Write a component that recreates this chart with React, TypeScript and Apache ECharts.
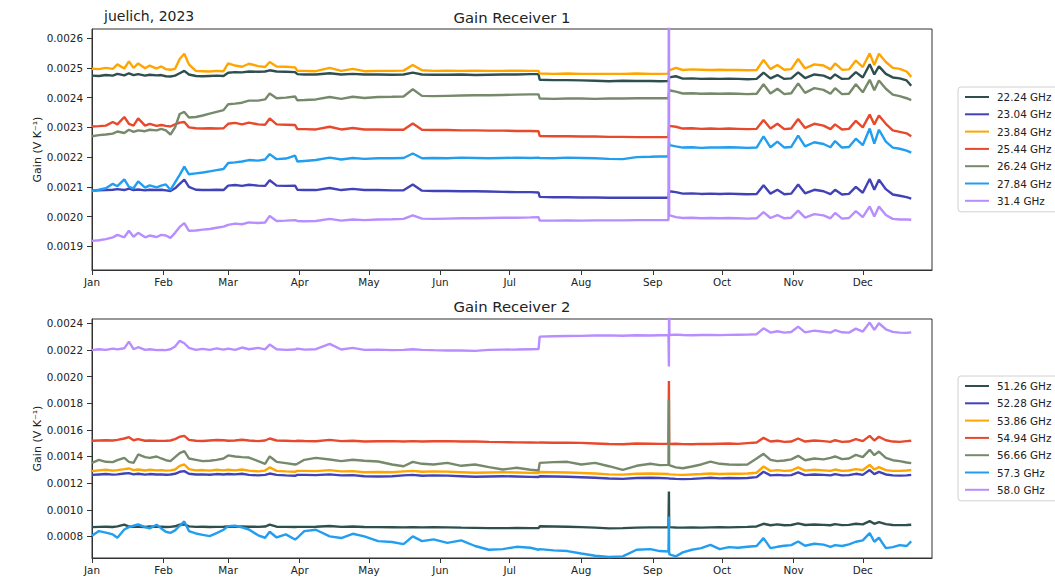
import React, { useEffect, useRef } from 'react';
import * as echarts from 'echarts';

// ---------- axis / label data ----------
const MONTHS = ['Jan', 'Feb', 'Mar', 'Apr', 'May', 'Jun', 'Jul', 'Aug', 'Sep', 'Oct', 'Nov', 'Dec'];
// day of year 2023 (0 = 1 Jan) at which each month starts
const MONTH_STARTS = [0, 31, 59, 90, 120, 151, 181, 212, 243, 273, 304, 334];
const Y1_TICKS = [0.0019, 0.002, 0.0021, 0.0022, 0.0023, 0.0024, 0.0025, 0.0026];
const Y2_TICKS = [0.0008, 0.001, 0.0012, 0.0014, 0.0016, 0.0018, 0.002, 0.0022, 0.0024];

// day of year 2023 (0 = 1 Jan) of each sample
const DAYS = [
  0, 3, 6, 9, 11, 14, 16, 18, 20, 23, 25, 28, 30, 32, 34, 36, 38, 40, 42, 45, 48, 51, 54, 57, 59, 62, 65, 68, 72, 75, 77, 80, 84, 88, 89,
  92, 97, 103, 108, 113, 118, 124, 130, 135, 139, 143, 148, 154, 160, 166, 172, 178, 184, 190, 193.5, 194, 200, 206, 212, 218, 224, 230, 236, 242, 246, 249.8,
  250, 250.1, 250.2, 253, 256, 260, 264, 268, 272, 276, 280, 284, 288, 291, 294, 297, 300, 303, 306, 309, 313, 317, 320, 322, 325, 328, 331, 334, 337, 339, 341, 344, 347, 350, 353, 355,
];

// ---------- Receiver 1 (gain in 1e-6 V/K) ----------
const R1_NAMES = ['22.24 GHz', '23.04 GHz', '23.84 GHz', '25.44 GHz', '26.24 GHz', '27.84 GHz', '31.4 GHz'];
const R1_2224 = [
  2474, 2473, 2476, 2474, 2480, 2475, 2482, 2476, 2479, 2474, 2477, 2475, 2476, 2472, 2471, 2474, 2482, 2490, 2478, 2473, 2472, 2473, 2474, 2473, 2484, 2486, 2485, 2488, 2487, 2488, 2492, 2488, 2487, 2486, 2479,
  2478, 2478, 2482, 2478, 2480, 2478, 2478, 2477, 2478, 2484, 2478, 2477, 2477, 2478, 2476, 2477, 2478, 2478, 2479, 2479, 2460, 2459, 2459, 2458, 2457, 2455, 2457, 2456, 2456, 2455, 2456,
  2456, 2468, 2468, 2472, 2464, 2465, 2463, 2464, 2463, 2464, 2463, 2462, 2463, 2484, 2465, 2476, 2463, 2465, 2485, 2466, 2478, 2474, 2464, 2478, 2463, 2464, 2486, 2468, 2512, 2478, 2505, 2480, 2468, 2465, 2458, 2440,
];
const R1_2304 = [
  2087, 2088, 2089, 2090, 2092, 2089, 2094, 2089, 2091, 2088, 2090, 2089, 2090, 2088, 2086, 2095, 2110, 2124, 2100, 2090, 2089, 2089, 2090, 2089, 2104, 2106, 2103, 2107, 2104, 2103, 2122, 2104, 2103, 2104, 2090,
  2089, 2089, 2096, 2089, 2093, 2089, 2089, 2088, 2088, 2108, 2087, 2086, 2086, 2085, 2085, 2084, 2083, 2082, 2082, 2081, 2066, 2065, 2065, 2064, 2064, 2063, 2063, 2063, 2063, 2063, 2063,
  2063, 2085, 2085, 2082, 2077, 2078, 2076, 2077, 2076, 2077, 2076, 2075, 2076, 2105, 2077, 2090, 2075, 2077, 2108, 2078, 2090, 2085, 2075, 2090, 2074, 2076, 2100, 2080, 2126, 2090, 2124, 2092, 2074, 2070, 2065, 2060,
];
const R1_2384 = [
  2497, 2496, 2500, 2497, 2512, 2498, 2522, 2500, 2515, 2499, 2508, 2498, 2505, 2496, 2494, 2497, 2530, 2548, 2512, 2490, 2489, 2488, 2490, 2489, 2515, 2508, 2504, 2514, 2506, 2503, 2520, 2505, 2504, 2502, 2490,
  2490, 2489, 2500, 2490, 2497, 2489, 2490, 2490, 2491, 2510, 2492, 2490, 2491, 2490, 2491, 2490, 2490, 2491, 2490, 2490, 2481, 2480, 2481, 2480, 2480, 2480, 2480, 2481, 2480, 2480, 2481,
  2481, 2492, 2492, 2500, 2493, 2495, 2494, 2493, 2494, 2493, 2493, 2492, 2493, 2527, 2496, 2510, 2494, 2496, 2530, 2498, 2512, 2508, 2495, 2515, 2494, 2495, 2525, 2503, 2549, 2510, 2548, 2520, 2500, 2497, 2488, 2470,
];
const R1_2544 = [
  2303, 2304, 2306, 2318, 2310, 2335, 2312, 2306, 2330, 2306, 2312, 2305, 2308, 2305, 2303, 2310, 2316, 2318, 2300, 2297, 2296, 2297, 2296, 2297, 2312, 2315, 2310, 2316, 2310, 2309, 2330, 2310, 2309, 2308, 2294,
  2294, 2293, 2302, 2293, 2298, 2293, 2293, 2292, 2292, 2313, 2292, 2291, 2291, 2290, 2290, 2289, 2289, 2288, 2288, 2287, 2271, 2270, 2270, 2269, 2269, 2268, 2268, 2267, 2267, 2267, 2267,
  2267, 2305, 2305, 2302, 2296, 2297, 2295, 2296, 2295, 2296, 2295, 2294, 2295, 2325, 2296, 2312, 2294, 2296, 2328, 2298, 2312, 2306, 2294, 2310, 2293, 2295, 2322, 2300, 2343, 2310, 2340, 2312, 2290, 2285, 2280, 2270,
];
const R1_2624 = [
  2270, 2274, 2276, 2279, 2286, 2281, 2292, 2285, 2290, 2287, 2292, 2290, 2295, 2290, 2276, 2300, 2345, 2352, 2333, 2335, 2340, 2346, 2352, 2358, 2378, 2380, 2383, 2390, 2390, 2394, 2414, 2398, 2400, 2404, 2391,
  2392, 2394, 2402, 2396, 2403, 2399, 2402, 2403, 2404, 2428, 2406, 2405, 2406, 2407, 2408, 2408, 2409, 2410, 2411, 2411, 2397, 2396, 2397, 2397, 2396, 2397, 2397, 2398, 2398, 2398, 2398,
  2398, 2425, 2425, 2420, 2414, 2415, 2413, 2414, 2413, 2414, 2413, 2412, 2413, 2445, 2414, 2430, 2412, 2415, 2448, 2416, 2432, 2426, 2413, 2432, 2412, 2413, 2445, 2418, 2460, 2425, 2458, 2430, 2410, 2405, 2398, 2392,
];
const R1_2784 = [
  2086, 2090, 2095, 2110, 2102, 2125, 2100, 2095, 2118, 2097, 2105, 2098, 2104, 2108, 2090, 2115, 2140, 2168, 2142, 2145, 2148, 2152, 2156, 2160, 2180, 2182, 2185, 2190, 2188, 2192, 2210, 2193, 2195, 2205, 2185,
  2187, 2190, 2198, 2192, 2197, 2194, 2196, 2196, 2197, 2212, 2196, 2197, 2196, 2198, 2197, 2196, 2197, 2198, 2197, 2198, 2197, 2196, 2198, 2197, 2196, 2194, 2193, 2200, 2201, 2202, 2202,
  2202, 2250, 2240, 2236, 2232, 2233, 2231, 2232, 2232, 2233, 2232, 2231, 2232, 2270, 2233, 2252, 2232, 2234, 2272, 2236, 2250, 2244, 2233, 2254, 2232, 2234, 2262, 2240, 2296, 2245, 2292, 2252, 2232, 2228, 2222, 2215,
];
const R1_3140 = [
  1918, 1920, 1924, 1930, 1938, 1930, 1952, 1932, 1945, 1930, 1936, 1931, 1938, 1936, 1928, 1945, 1965, 1978, 1952, 1953, 1956, 1958, 1962, 1966, 1972, 1976, 1974, 1980, 1978, 1980, 2002, 1985, 1986, 1988, 1985,
  1984, 1985, 1992, 1986, 1990, 1988, 1990, 1991, 1992, 2004, 1993, 1992, 1993, 1994, 1994, 1995, 1996, 1996, 1997, 1998, 1986, 1986, 1987, 1986, 1987, 1987, 1987, 1988, 1988, 1988, 1988,
  3000, 2005, 2005, 1998, 1995, 1996, 1994, 1995, 1994, 1995, 1994, 1993, 1994, 2015, 1995, 2005, 1994, 1996, 2020, 1996, 2008, 2004, 1994, 2012, 1993, 1995, 2018, 1998, 2034, 2000, 2034, 2005, 1992, 1990, 1990, 1989,
];

// ---------- Receiver 2 (gain in 1e-6 V/K) ----------
const R2_NAMES = ['51.26 GHz', '52.28 GHz', '53.86 GHz', '54.94 GHz', '56.66 GHz', '57.3 GHz', '58.0 GHz'];
const R2_5126 = [
  870, 872, 873, 871, 875, 888, 874, 872, 873, 871, 874, 872, 873, 871, 872, 876, 888, 890, 875, 872, 873, 871, 872, 873, 874, 872, 875, 873, 872, 874, 888, 873, 872, 871, 872,
  872, 873, 878, 872, 874, 871, 870, 869, 868, 870, 868, 869, 868, 866, 864, 862, 862, 863, 862, 862, 876, 875, 873, 870, 866, 860, 862, 866, 868, 868, 868,
  1137, 870, 868, 867, 866, 868, 866, 868, 869, 868, 870, 872, 875, 895, 884, 890, 884, 886, 898, 886, 890, 887, 884, 892, 885, 887, 895, 890, 915, 895, 908, 892, 886, 885, 886, 888,
];
const R2_5228 = [
  1262, 1265, 1268, 1264, 1266, 1272, 1275, 1266, 1270, 1264, 1268, 1265, 1266, 1263, 1265, 1270, 1285, 1290, 1270, 1265, 1266, 1263, 1268, 1265, 1268, 1266, 1270, 1262, 1258, 1262, 1272, 1262, 1258, 1255, 1262,
  1262, 1260, 1266, 1258, 1260, 1252, 1250, 1252, 1258, 1262, 1255, 1258, 1256, 1252, 1248, 1250, 1252, 1250, 1247, 1246, 1252, 1250, 1248, 1244, 1240, 1235, 1232, 1238, 1240, 1238, 1236,
  1236, 1236, 1235, 1232, 1230, 1232, 1236, 1240, 1236, 1238, 1237, 1238, 1245, 1285, 1258, 1262, 1258, 1260, 1280, 1260, 1265, 1262, 1258, 1268, 1258, 1260, 1270, 1262, 1298, 1268, 1285, 1265, 1258, 1256, 1258, 1262,
];
const R2_5386 = [
  1290, 1296, 1300, 1294, 1298, 1305, 1310, 1298, 1302, 1295, 1300, 1296, 1298, 1294, 1296, 1302, 1330, 1340, 1305, 1296, 1298, 1294, 1300, 1296, 1300, 1296, 1302, 1294, 1288, 1294, 1318, 1292, 1288, 1285, 1292,
  1292, 1290, 1298, 1288, 1290, 1282, 1284, 1282, 1288, 1292, 1285, 1288, 1286, 1282, 1278, 1280, 1282, 1280, 1277, 1276, 1284, 1282, 1280, 1276, 1272, 1266, 1264, 1270, 1272, 1270, 1268,
  1268, 1268, 1266, 1264, 1262, 1265, 1268, 1272, 1268, 1270, 1270, 1272, 1278, 1325, 1292, 1298, 1292, 1295, 1318, 1294, 1300, 1296, 1292, 1302, 1292, 1295, 1305, 1298, 1337, 1302, 1320, 1298, 1292, 1292, 1295, 1298,
];
const R2_5494 = [
  1518, 1520, 1522, 1520, 1525, 1535, 1545, 1522, 1530, 1518, 1520, 1518, 1517, 1518, 1520, 1530, 1548, 1555, 1525, 1518, 1516, 1520, 1524, 1522, 1518, 1520, 1526, 1520, 1515, 1520, 1535, 1520, 1518, 1515, 1518,
  1516, 1514, 1525, 1515, 1518, 1512, 1514, 1515, 1513, 1515, 1512, 1514, 1515, 1512, 1513, 1510, 1508, 1506, 1505, 1504, 1505, 1503, 1504, 1502, 1498, 1494, 1492, 1497, 1496, 1495, 1495,
  1967, 1500, 1494, 1496, 1493, 1492, 1495, 1494, 1496, 1497, 1495, 1500, 1505, 1540, 1512, 1518, 1510, 1512, 1535, 1512, 1520, 1515, 1510, 1522, 1510, 1512, 1530, 1515, 1555, 1520, 1548, 1522, 1512, 1510, 1515, 1518,
];
const R2_5666 = [
  1352, 1375, 1360, 1358, 1372, 1390, 1360, 1352, 1415, 1395, 1390, 1400, 1385, 1372, 1365, 1395, 1425, 1440, 1385, 1375, 1365, 1368, 1375, 1385, 1408, 1400, 1395, 1392, 1365, 1345, 1400, 1360, 1350, 1340, 1345,
  1375, 1390, 1377, 1365, 1375, 1368, 1362, 1340, 1327, 1360, 1345, 1340, 1352, 1330, 1340, 1320, 1302, 1315, 1300, 1295, 1352, 1358, 1360, 1340, 1352, 1327, 1300, 1330, 1345, 1335, 1337,
  1825, 1335, 1330, 1318, 1312, 1325, 1340, 1362, 1345, 1340, 1338, 1340, 1385, 1420, 1375, 1365, 1370, 1378, 1405, 1372, 1385, 1378, 1390, 1400, 1380, 1385, 1412, 1395, 1450, 1410, 1437, 1390, 1372, 1365, 1355, 1350,
];
const R2_5730 = [
  805, 840, 828, 815, 790, 852, 870, 880, 890, 870, 860, 888, 860, 835, 827, 845, 880, 912, 840, 822, 812, 802, 825, 850, 877, 880, 868, 852, 808, 790, 835, 792, 815, 777, 790,
  840, 850, 800, 788, 820, 800, 765, 758, 742, 800, 765, 778, 752, 770, 728, 700, 705, 722, 715, 700, 705, 695, 690, 672, 655, 645, 650, 700, 705, 690, 687,
  950, 680, 665, 650, 680, 700, 712, 737, 705, 720, 715, 722, 728, 787, 712, 722, 730, 735, 762, 730, 745, 738, 722, 735, 728, 740, 760, 770, 825, 760, 790, 712, 720, 735, 728, 762,
];
const R2_5800 = [
  2198, 2205, 2200, 2210, 2204, 2212, 2262, 2205, 2220, 2200, 2205, 2198, 2200, 2198, 2205, 2225, 2268, 2250, 2215, 2200, 2208, 2200, 2212, 2202, 2210, 2200, 2218, 2205, 2215, 2204, 2240, 2205, 2200, 2203, 2210,
  2202, 2205, 2245, 2203, 2215, 2200, 2202, 2198, 2200, 2205, 2200, 2198, 2196, 2195, 2193, 2200, 2202, 2203, 2205, 2206, 2300, 2302, 2304, 2305, 2308, 2309, 2306, 2310, 2308, 2310, 2311,
  2075, 3000, 2312, 2315, 2312, 2310, 2312, 2313, 2311, 2313, 2314, 2315, 2318, 2362, 2330, 2340, 2330, 2334, 2375, 2332, 2345, 2336, 2330, 2348, 2332, 2330, 2360, 2338, 2405, 2350, 2400, 2355, 2335, 2330, 2328, 2332,
];

const COLORS = ['#2f4f4f', '#4242b8', '#ffa500', '#e8482b', '#768a6b', '#219ef0', '#b88dff'];
const R1_VALUES = [R1_2224, R1_2304, R1_2384, R1_2544, R1_2624, R1_2784, R1_3140];
const R2_VALUES = [R2_5126, R2_5228, R2_5386, R2_5494, R2_5666, R2_5730, R2_5800];

const FONT = "'DejaVu Sans', sans-serif";

function toPoints(vals: number[]) {
  return DAYS.map((d, i) => [d, vals[i] / 1e6]);
}

function xAxis(gridIndex: number) {
  return {
    type: 'value',
    gridIndex,
    min: 0,
    max: 364,
    axisLine: { show: true, onZero: false, lineStyle: { color: '#333', width: 1 } },
    axisTick: { show: true, length: 5, customValues: MONTH_STARTS, lineStyle: { color: '#333' } },
    axisLabel: {
      customValues: MONTH_STARTS,
      formatter: (v: number) => MONTHS[MONTH_STARTS.indexOf(Math.round(v))] || '',
      color: '#222',
      fontSize: 10.4,
      fontFamily: FONT,
      margin: 7,
    },
    splitLine: { show: false },
  };
}

function yAxis(gridIndex: number, min: number, max: number, ticks: number[]) {
  return {
    type: 'value',
    gridIndex,
    min,
    max,
    name: 'Gain (V K\u207B\u00B9)',
    nameLocation: 'middle',
    nameGap: 49,
    nameMoveOverlap: false,
    nameRotate: 90,
    nameTextStyle: { fontSize: 11, fontFamily: FONT, color: '#222' },
    axisLine: { show: true, onZero: false, lineStyle: { color: '#333', width: 1 } },
    axisTick: { show: true, length: 5, customValues: ticks, lineStyle: { color: '#333' } },
    axisLabel: {
      customValues: ticks,
      formatter: (v: number) => Number(v).toFixed(4),
      color: '#222',
      fontSize: 10.4,
      fontFamily: FONT,
      margin: 9,
    },
    splitLine: { show: false },
  };
}

function legend(names: string[], top: number) {
  return {
    data: names,
    orient: 'vertical',
    left: 958,
    top,
    icon: 'rect',
    itemWidth: 24,
    itemHeight: 2,
    itemGap: 5.3,
    padding: [4, 8, 5, 7],
    borderColor: '#d0d0d0',
    borderWidth: 1,
    borderRadius: 3,
    backgroundColor: '#fff',
    selectedMode: false,
    textStyle: { fontSize: 10.4, lineHeight: 12, fontFamily: FONT, color: '#222', padding: [0, 0, 0, 3] },
  };
}

export default function App() {
  const ref = useRef<HTMLDivElement>(null);
  useEffect(() => {
    const chart = echarts.init(ref.current as HTMLDivElement, null, { renderer: 'svg' });
    const series: any[] = [];
    R1_VALUES.forEach((vals, i) => {
      series.push({
        type: 'line', name: R1_NAMES[i], xAxisIndex: 0, yAxisIndex: 0,
        data: toPoints(vals), symbol: 'none', showSymbol: false,
        lineStyle: { width: 2.4, color: COLORS[i] }, itemStyle: { color: COLORS[i] },
      });
    });
    R2_VALUES.forEach((vals, i) => {
      series.push({
        type: 'line', name: R2_NAMES[i], xAxisIndex: 1, yAxisIndex: 1,
        data: toPoints(vals), symbol: 'none', showSymbol: false,
        lineStyle: { width: 2.4, color: COLORS[i] }, itemStyle: { color: COLORS[i] },
      });
    });
    chart.setOption({
      animation: false,
      backgroundColor: '#fff',
      grid: [
        { left: 92, top: 29, width: 840, height: 241, show: true, borderColor: '#333', borderWidth: 1 },
        { left: 92, top: 319, width: 840, height: 239, show: true, borderColor: '#333', borderWidth: 1 },
      ],
      xAxis: [xAxis(0), xAxis(1)],
      yAxis: [
        yAxis(0, 0.00182, 0.002631, Y1_TICKS),
        yAxis(1, 0.000638, 0.002432, Y2_TICKS),
      ],
      legend: [legend(R1_NAMES, 87), legend(R2_NAMES, 376)],
      graphic: [
        { type: 'text', left: 104, top: 9, style: { text: 'juelich, 2023', font: `14px ${FONT}`, fill: '#222' } },
        { type: 'text', x: 512, y: 17, style: { text: 'Gain Receiver 1', font: `14.8px ${FONT}`, fill: '#222', textAlign: 'center', textVerticalAlign: 'middle' } },
        { type: 'text', x: 512, y: 306, style: { text: 'Gain Receiver 2', font: `14.8px ${FONT}`, fill: '#222', textAlign: 'center', textVerticalAlign: 'middle' } },
      ],
      series,
    });
    return () => chart.dispose();
  }, []);
  return <div ref={ref} style={{ position: 'fixed', left: 0, top: 0, width: 1055, height: 580, background: '#fff' }} />;
}
